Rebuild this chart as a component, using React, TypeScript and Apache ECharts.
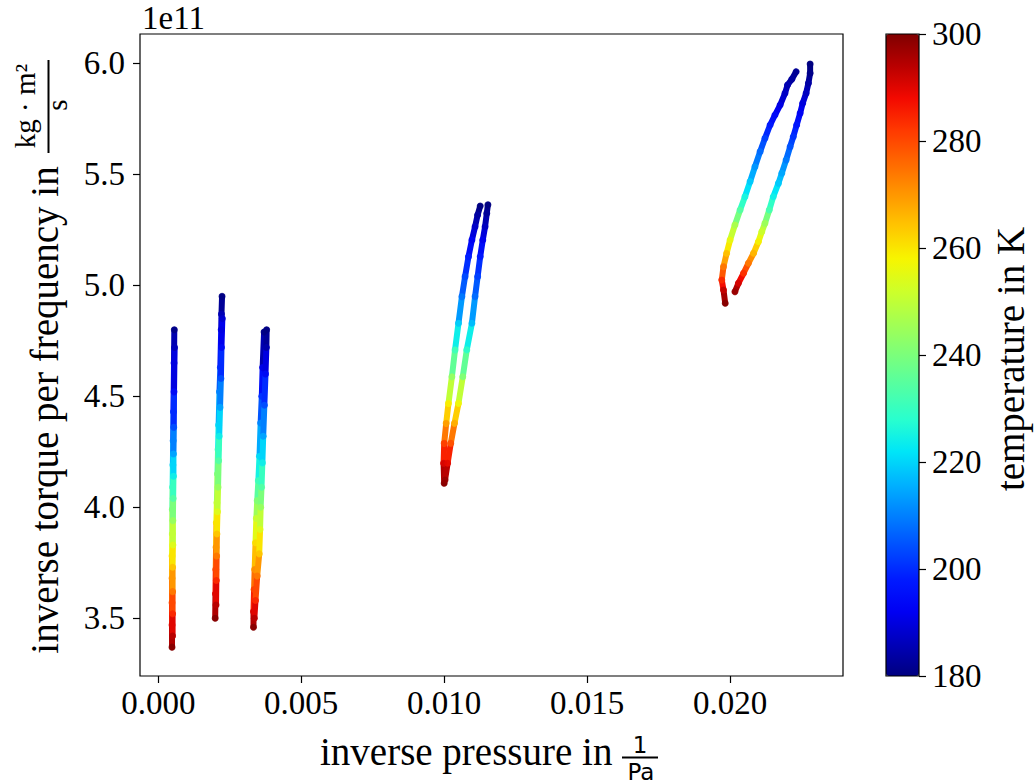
import React, { useEffect, useRef } from "react";
import * as echarts from "echarts";

// ---- tick values ----
const xTicks = [0, 0.005, 0.01, 0.015, 0.02];
const yTicks = [3.5, 4.0, 4.5, 5.0, 5.5, 6.0];
const tempTicks = [180, 200, 220, 240, 260, 280, 300];

// ---- data (y in units of 1e11) ----
// cluster 1
const c1DownX = [0.00056, 0.00055, 0.00053, 0.00052, 0.00051, 0.0005, 0.00049, 0.00049, 0.00048, 0.00048, 0.00048, 0.00048, 0.00048];
const c1DownY = [4.8, 4.65, 4.43, 4.3, 4.19, 4.09, 3.99, 3.88, 3.78, 3.68, 3.57, 3.47, 3.37];
const c1DownT = [180, 190, 200, 210, 220, 230, 240, 250, 260, 270, 280, 290, 300];
const c1UpX = [0.0005, 0.0005, 0.0005, 0.0005, 0.00051, 0.00051, 0.00052, 0.00053, 0.00053, 0.00054, 0.00055, 0.00057];
const c1UpY = [3.42, 3.52, 3.62, 3.73, 3.83, 3.94, 4.04, 4.14, 4.24, 4.36, 4.52, 4.72];
const c1UpT = [295, 285, 275, 265, 255, 245, 235, 225, 215, 205, 195, 185];
// cluster 2
const c2DownX = [0.00223, 0.00221, 0.0022, 0.00217, 0.00214, 0.00211, 0.00209, 0.00207, 0.00205, 0.00203, 0.00202, 0.00201, 0.002, 0.00199];
const c2DownY = [4.95, 4.87, 4.8, 4.63, 4.52, 4.37, 4.26, 4.15, 4.02, 3.93, 3.82, 3.72, 3.61, 3.5];
const c2DownT = [180, 185, 190, 200, 210, 220, 230, 240, 250, 260, 270, 280, 290, 300];
const c2UpX = [0.00202, 0.00203, 0.00204, 0.00205, 0.00207, 0.00209, 0.00211, 0.00213, 0.00216, 0.00219, 0.00221, 0.00224];
const c2UpY = [3.56, 3.67, 3.78, 3.88, 3.98, 4.09, 4.21, 4.32, 4.45, 4.58, 4.72, 4.85];
const c2UpT = [295, 285, 275, 265, 255, 245, 235, 225, 215, 205, 195, 188];
// cluster 3
const c3DownX = [0.0037, 0.00365, 0.00362, 0.00358, 0.00354, 0.0035, 0.00346, 0.00343, 0.0034, 0.00337, 0.00335, 0.00333, 0.00333];
const c3DownY = [4.79, 4.63, 4.5, 4.38, 4.23, 4.12, 4.03, 3.95, 3.84, 3.72, 3.63, 3.53, 3.46];
const c3DownT = [180, 190, 200, 210, 220, 230, 240, 250, 260, 270, 280, 290, 300];
const c3UpX = [0.00336, 0.0034, 0.00346, 0.00353, 0.00356, 0.00358, 0.00361, 0.00364, 0.00367, 0.00371, 0.00375, 0.00378, 0.00379];
const c3UpY = [3.5, 3.58, 3.69, 3.79, 3.9, 4.0, 4.09, 4.2, 4.32, 4.46, 4.6, 4.72, 4.8];
const c3UpT = [295, 285, 275, 265, 255, 245, 235, 225, 215, 205, 195, 185, 180];
// cluster 4
const c4DownX = [0.01126, 0.01117, 0.01108, 0.01097, 0.01085, 0.01073, 0.01062, 0.0105, 0.01038, 0.01027, 0.01015, 0.01007, 0.01, 0.00998, 0.01];
const c4DownY = [5.357, 5.317, 5.264, 5.204, 5.129, 5.039, 4.949, 4.829, 4.709, 4.588, 4.468, 4.378, 4.288, 4.198, 4.108];
const c4DownT = [180, 183, 187, 192, 198, 203, 208, 218, 230, 242, 258, 268, 280, 290, 300];
const c4UpX = [0.01003, 0.01012, 0.01023, 0.01036, 0.0105, 0.01065, 0.01079, 0.01097, 0.01108, 0.01117, 0.01126, 0.01135, 0.01143, 0.01149, 0.01153];
const c4UpY = [4.123, 4.198, 4.288, 4.378, 4.468, 4.588, 4.709, 4.829, 4.949, 5.039, 5.129, 5.204, 5.264, 5.324, 5.363];
const c4UpT = [298, 290, 280, 268, 258, 242, 230, 218, 208, 203, 198, 192, 187, 183, 180];
// cluster 5
const c5DownX = [0.02231, 0.02216, 0.02201, 0.02192, 0.02175, 0.02157, 0.0214, 0.02122, 0.02105, 0.02087, 0.0207, 0.02052, 0.02035, 0.02017, 0.02, 0.01988, 0.01977, 0.01971, 0.01977, 0.01983];
const c5DownY = [5.962, 5.928, 5.902, 5.865, 5.812, 5.767, 5.722, 5.662, 5.602, 5.534, 5.467, 5.399, 5.339, 5.272, 5.204, 5.144, 5.084, 5.024, 4.979, 4.919];
const c5DownT = [182, 183, 185, 187, 190, 194, 197, 202, 207, 212, 218, 225, 233, 246, 255, 264, 273, 283, 292, 300];
const c5UpX = [0.02017, 0.02029, 0.02047, 0.02064, 0.02082, 0.02099, 0.02111, 0.02122, 0.02137, 0.02151, 0.02169, 0.02181, 0.02196, 0.0221, 0.02221, 0.02233, 0.02245, 0.02254, 0.02266, 0.02274, 0.0228, 0.0228];
const c5UpY = [4.971, 5.009, 5.054, 5.099, 5.144, 5.196, 5.241, 5.279, 5.339, 5.399, 5.459, 5.505, 5.564, 5.624, 5.669, 5.722, 5.775, 5.82, 5.865, 5.91, 5.955, 5.997];
const c5UpT = [298, 292, 284, 275, 267, 259, 252, 246, 233, 225, 219, 215, 210, 205, 201, 197, 193, 190, 187, 184, 181, 180];

const branches: number[][][] = [
  [c1DownX, c1DownY, c1DownT], [c1UpX, c1UpY, c1UpT],
  [c2DownX, c2DownY, c2DownT], [c2UpX, c2UpY, c2UpT],
  [c3DownX, c3DownY, c3DownT], [c3UpX, c3UpY, c3UpT],
  [c4DownX, c4DownY, c4DownT], [c4UpX, c4UpY, c4UpT],
  [c5DownX, c5DownY, c5DownT], [c5UpX, c5UpY, c5UpT],
];

const jet = [
  "#000080", "#0000b9", "#0000f3", "#001aff", "#004dff", "#0080ff", "#00b3ff",
  "#00e6f7", "#29ffce", "#52ffa4", "#7bff7b", "#a4ff52", "#ceff29", "#f7f500",
  "#ffc600", "#ff9700", "#ff6800", "#ff3900", "#f30900", "#b90000", "#800000",
];

const SERIF = "'Liberation Serif', 'Times New Roman', serif";
const SANS = "'DejaVu Sans', sans-serif";

export default function App() {
  const ref = useRef<HTMLDivElement>(null);
  useEffect(() => {
    if (!ref.current) return;
    const chart = echarts.init(ref.current, undefined, { renderer: "svg" });

    const points: number[][] = [];
    const segments: number[][] = [];
    branches.forEach(([xs, ys, ts]) => {
      for (let i = 0; i < xs.length; i++) {
        points.push([xs[i], ys[i], ts[i]]);
        if (i < xs.length - 1) {
          segments.push([xs[i], ys[i], (ts[i] + ts[i + 1]) / 2, xs[i + 1], ys[i + 1]]);
        }
      }
    });

    const tick = { show: true, length: 7, lineStyle: { color: "#000", width: 1.2 } };

    const option: any = {
      animation: false,
      textStyle: { fontFamily: SERIF },
      grid: [
        { left: 140, top: 34, width: 703, height: 642, show: true, borderColor: "#000", borderWidth: 1.2, backgroundColor: "transparent" },
        { left: 886, top: 34, width: 33, height: 642, show: false },
      ],
      xAxis: [
        {
          type: "value", gridIndex: 0, min: -0.00064, max: 0.02395, position: "bottom",
          axisLine: { show: false, onZero: false },
          splitLine: { show: false },
          axisTick: { ...tick, customValues: xTicks },
          axisLabel: { customValues: xTicks, formatter: (v: number) => v.toFixed(3), fontSize: 33, color: "#000", margin: 10, fontFamily: SERIF },
        },
        { type: "value", gridIndex: 1, show: false, min: 0, max: 1 },
      ],
      yAxis: [
        {
          type: "value", gridIndex: 0, min: 3.24, max: 6.132, position: "left",
          axisLine: { show: false, onZero: false },
          splitLine: { show: false },
          axisTick: { ...tick, customValues: yTicks },
          axisLabel: { customValues: yTicks, formatter: (v: number) => v.toFixed(1), fontSize: 33, color: "#000", margin: 15, fontFamily: SERIF },
        },
        {
          type: "value", gridIndex: 1, position: "right", min: 180, max: 300, interval: 20,
          axisLine: { show: false, onZero: false },
          splitLine: { show: false },
          axisTick: { ...tick, customValues: tempTicks },
          axisLabel: { customValues: tempTicks, fontSize: 33, color: "#000", margin: 13, fontFamily: SERIF },
        },
      ],
      visualMap: {
        type: "continuous",
        min: 180, max: 300,
        dimension: 2,
        seriesIndex: [0, 1],
        inRange: { color: jet },
        calculable: false,
        show: true,
        left: 886, top: 34,
        itemWidth: 33, itemHeight: 642,
        padding: 0,
        text: null,
        showLabel: false,
        hoverLink: false,
      },
      series: [
        {
          type: "custom",
          xAxisIndex: 0, yAxisIndex: 0,
          data: segments,
          encode: { x: [0, 3], y: [1, 4] },
          renderItem: (params: any, api: any) => {
            const p1 = api.coord([api.value(0), api.value(1)]);
            const p2 = api.coord([api.value(3), api.value(4)]);
            return {
              type: "line",
              shape: { x1: p1[0], y1: p1[1], x2: p2[0], y2: p2[1] },
              style: { stroke: api.visual("color"), lineWidth: 6, lineCap: "round" },
            };
          },
          silent: true,
        },
        {
          type: "scatter",
          xAxisIndex: 0, yAxisIndex: 0,
          data: points,
          symbolSize: 7,
          silent: true,
        },
      ],
      graphic: [
        { type: "rect", z: 100, shape: { x: 886, y: 34, width: 33, height: 642 }, style: { fill: "none", stroke: "#000", lineWidth: 1.2 } },
        { type: "text", z: 100, x: 142, y: 17.5, style: { text: "1e11", font: `33px ${SERIF}`, fill: "#000", align: "left", verticalAlign: "middle" } },
        { type: "text", z: 100, x: 320, y: 751, style: { text: "inverse pressure in", font: `39px ${SERIF}`, fill: "#000", align: "left", verticalAlign: "middle" } },
        { type: "text", z: 100, x: 640, y: 744.5, style: { text: "1", font: `23px ${SANS}`, fill: "#000", align: "center", verticalAlign: "middle" } },
        { type: "line", z: 100, shape: { x1: 622, y1: 757.5, x2: 658, y2: 757.5 }, style: { stroke: "#000", lineWidth: 2 } },
        { type: "text", z: 100, x: 641, y: 772, style: { text: "Pa", font: `23px ${SANS}`, fill: "#000", align: "center", verticalAlign: "middle" } },
        { type: "text", z: 100, x: 44, y: 410, rotation: Math.PI / 2, style: { text: "inverse torque per frequency in", font: `39px ${SERIF}`, fill: "#000", align: "center", verticalAlign: "middle" } },
        { type: "text", z: 100, x: 25, y: 106, rotation: Math.PI / 2, style: { text: "kg · m²", font: `29px ${SERIF}`, fill: "#000", align: "center", verticalAlign: "middle" } },
        { type: "line", z: 100, shape: { x1: 48.5, y1: 60, x2: 48.5, y2: 153 }, style: { stroke: "#000", lineWidth: 2 } },
        { type: "text", z: 100, x: 57, y: 105, rotation: Math.PI / 2, style: { text: "s", font: `29px ${SERIF}`, fill: "#000", align: "center", verticalAlign: "middle" } },
        { type: "text", z: 100, x: 1010, y: 359, rotation: Math.PI / 2, style: { text: "temperature in K", font: `39px ${SERIF}`, fill: "#000", align: "center", verticalAlign: "middle" } },
      ],
    };
    chart.setOption(option);
    return () => chart.dispose();
  }, []);
  return <div ref={ref} style={{ position: "absolute", left: 0, top: 0, width: 1035, height: 784, background: "#fff" }} />;
}
